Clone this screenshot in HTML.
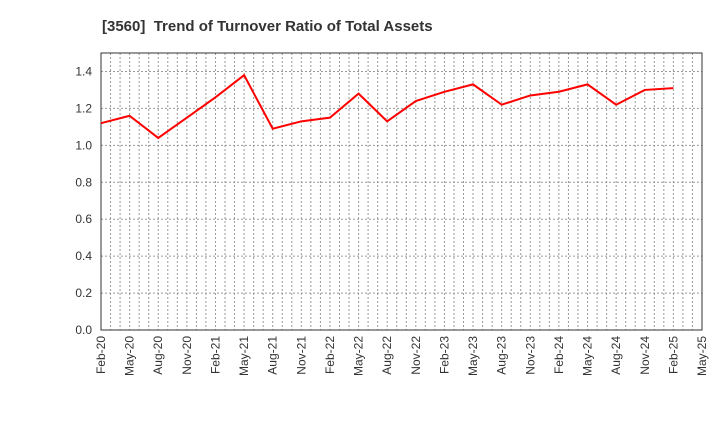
<!DOCTYPE html>
<html><head><meta charset="utf-8"><style>
body{margin:0;background:#fff;width:720px;height:440px;overflow:hidden;font-family:"Liberation Sans",sans-serif}
</style></head><body>
<svg id="chart" width="720" height="440" xmlns="http://www.w3.org/2000/svg">
<text x="102" y="31" font-size="15" font-weight="bold" fill="#333">[3560]&#160;&#160;Trend of Turnover Ratio of Total Assets</text>
<g id="grid"></g><g id="axes"></g><g id="series"></g>
</svg>
<script>
const categories=["Feb-20","May-20","Aug-20","Nov-20","Feb-21","May-21","Aug-21","Nov-21","Feb-22","May-22","Aug-22","Nov-22","Feb-23","May-23","Aug-23","Nov-23","Feb-24","May-24","Aug-24","Nov-24","Feb-25","May-25"];
const values=[1.12,1.16,1.04,1.15,1.26,1.38,1.09,1.13,1.15,1.28,1.13,1.24,1.29,1.33,1.22,1.27,1.29,1.33,1.22,1.30,1.31];
const yTicks=[0,0.2,0.4,0.6,0.8,1.0,1.2,1.4];
const NS="http://www.w3.org/2000/svg";
const L=101,R=702,T=53,B=330,yMax=1.5,nMonths=(categories.length-1)*3;
const x=i=>L+(R-L)*i/(categories.length-1);
const xm=m=>L+(R-L)*m/nMonths;
const y=v=>B-(B-T)*v/yMax;
function mk(tag,attrs,parent){const e=document.createElementNS(NS,tag);for(const k in attrs)e.setAttribute(k,attrs[k]);document.getElementById(parent).appendChild(e);return e;}
for(let m=1;m<nMonths;m++){
 const g=mk('line',{x1:xm(m),x2:xm(m),y1:T,y2:B,stroke:'#999','stroke-dasharray':'2,2','stroke-width':1},'grid');
 
 
}
yTicks.forEach(v=>{
 if(v>0){const g=mk('line',{x1:L,x2:R,y1:y(v),y2:y(v),stroke:'#999','stroke-dasharray':'2,2','stroke-width':1},'grid');
 
 }
 const t=mk('text',{x:L-9,y:y(v)+4,'font-size':12,fill:'#333','text-anchor':'end'},'axes');
 t.textContent=v.toFixed(1);
 
 
});
const fr=mk('rect',{x:L,y:T,width:R-L,height:B-T,fill:'none',stroke:'#333','stroke-width':1},'axes');


categories.forEach((c,i)=>{
 const t=mk('text',{x:0,y:0,'font-size':12,fill:'#333','text-anchor':'end',transform:`translate(${x(i)+4},${B+6}) rotate(-90)`},'axes');
 t.textContent=c;
 
 
});
const p=mk('polyline',{points:values.map((v,i)=>x(i)+','+y(v)).join(' '),fill:'none',stroke:'#ff0000','stroke-width':2},'series');


</script>
</body></html>
